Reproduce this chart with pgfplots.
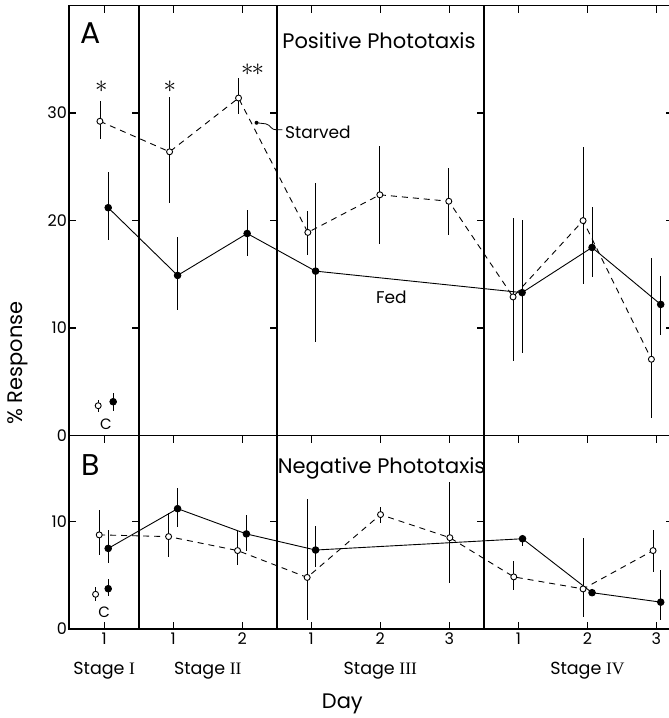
\documentclass[border=0pt]{standalone}
\usepackage{pgfplots}
\pgfplotsset{compat=1.18}
\usepackage{fontspec}
\setmainfont{Poppins}
\newfontfamily\rom{Liberation Serif}
\newcommand{\fs}[1]{\fontsize{#1}{#1}\selectfont}
\tikzset{septick/.style={line width=1.4pt}}
\begin{document}
\begin{tikzpicture}[x=1pt,y=1pt]
\useasboundingbox (0,0) rectangle (669,718);
\pgfplotsset{
  panel/.style={
    scale only axis, width=604pt, xmin=-0.51, xmax=8.24, ymin=0,
    xtick={0,...,8}, tick align=inside, major tick length=7pt,
    tick style={line width=1.4pt, black},
    axis line style={line width=1.6pt},
    ytick pos=both,
    /pgf/number format/assume math mode=true,
    yticklabel style={font=\fs{16}, inner sep=2pt},
    xticklabel style={font=\fs{16}},
    clip=false,
  },
  ebars/.style={error bars/y dir=both, error bars/y explicit, error bars/error mark=none,
    error bars/error bar style={line width=0.8pt, solid}},
  starved/.style={black, line width=0.9pt, dash pattern=on 6pt off 5pt,
    mark=*, mark size=3pt, mark options={solid, fill=white, line width=0.9pt}, ebars},
  fed/.style={black, line width=0.9pt, solid,
    mark=*, mark size=3.3pt, mark options={solid, fill=black}, ebars},
}
% ---------------- Panel A ----------------
\begin{axis}[panel, at={(69pt,282.4pt)}, anchor=south west, height=430pt,
  ymax=40, ytick={0,10,20,30}, xtick pos=right, xticklabels=\empty]
\addplot[starved] coordinates {
 (-0.062,29.24) += (0,1.91) -= (0,1.64)
 (0.947,26.4) += (0,5.1) -= (0,4.8)
 (1.946,31.4) += (0,1.9) -= (0,1.5)
 (2.950,18.9) += (0,1.95) -= (0,2.1)
 (3.993,22.4) += (0,4.5) -= (0,4.6)
 (4.992,21.8) += (0,3.1) -= (0,3.1)
 (5.923,12.9) += (0,7.3) -= (0,5.95)
 (6.937,20.0) += (0,6.8) -= (0,5.9)
 (7.927,7.1) += (0,9.4) -= (0,5.5)
};
\addplot[fed] coordinates {
 (0.058,21.2) += (0,3.3) -= (0,3.0)
 (1.063,14.9) += (0,3.6) -= (0,3.2)
 (2.071,18.8) += (0,2.2) -= (0,2.1)
 (3.062,15.3) += (0,8.2) -= (0,6.6)
 (6.054,13.3) += (0,6.8) -= (0,5.6)
 (7.067,17.5) += (0,3.8) -= (0,2.75)
 (8.062,12.2) += (0,2.6) -= (0,2.8)
};
\addplot[starved, only marks] coordinates {(-0.087,2.78) += (0,0.55) -= (0,0.55)};
\addplot[fed, only marks] coordinates {(0.130,3.15) += (0,0.8) -= (0,0.9)};
% separators
\draw[line width=1.6pt] (axis cs:0.5,0) -- (axis cs:0.5,40);
\draw[line width=1.6pt] (axis cs:2.5,0) -- (axis cs:2.5,40);
\draw[line width=1.6pt] (axis cs:5.5,0) -- (axis cs:5.5,40);
\draw[septick] (axis cs:0.5,10) -- (axis cs:0.40,10);
\draw[septick] (axis cs:0.5,20) -- (axis cs:0.40,20);
\draw[septick] (axis cs:0.5,30) -- (axis cs:0.40,30);
\draw[septick] (axis cs:2.5,10) -- (axis cs:2.40,10);
\draw[septick] (axis cs:2.5,20) -- (axis cs:2.40,20);
\draw[septick] (axis cs:2.5,30) -- (axis cs:2.40,30);
\draw[septick] (axis cs:5.5,10) -- (axis cs:5.40,10);
\draw[septick] (axis cs:5.5,20) -- (axis cs:5.40,20);
\draw[septick] (axis cs:5.5,30) -- (axis cs:5.40,30);
\node[font=\fs{30}] at (axis cs:-0.19,37.4) {A};
\node[font=\fs{21}] at (axis cs:3.98,36.7) {Positive Phototaxis};
\node[font=\fs{17}, anchor=west] at (axis cs:2.57,28.2) {Starved};
\node[font=\fs{17}] at (axis cs:4.16,12.9) {Fed};
\node[font=\fs{15}] at (axis cs:0.025,1.1) {C};
\draw[line width=0.8pt] (axis cs:2.207,29.1) -- (axis cs:2.34,29.0) .. controls (axis cs:2.42,28.9) and (axis cs:2.40,28.45) .. (axis cs:2.50,28.45) -- (axis cs:2.58,28.45);
\fill (axis cs:2.207,29.1) circle (2pt);
\node[font=\fs{28}] at (axis cs:-0.04,32.5) {$\ast$};
\node[font=\fs{28}] at (axis cs:0.95,32.5) {$\ast$};
\node[font=\fs{28}] at (axis cs:2.075,34.05) {$\ast$};
\node[font=\fs{28}] at (axis cs:2.225,34.05) {$\ast$};
\end{axis}
% ---------------- Panel B ----------------
\begin{axis}[panel, at={(69pt,89pt)}, anchor=south west, height=193.4pt,
  ymax=18, ytick={0,10}, xtick pos=both, xticklabel pos=left,
  xticklabels={1,1,2,1,2,3,1,2,3}]
\addplot[starved] coordinates {
 (-0.072,8.76) += (0,2.34) -= (0,1.86)
 (0.933,8.6) += (0,2.2) -= (0,1.9)
 (1.932,7.3) += (0,1.8) -= (0,1.3)
 (2.940,4.8) += (0,7.3) -= (0,3.95)
 (4.003,10.65) += (0,0.75) -= (0,0.8)
 (5.007,8.5) += (0,5.2) -= (0,4.2)
 (5.933,4.85) += (0,1.45) -= (0,1.25)
 (6.937,3.73) += (0,4.7) -= (0,2.6)
 (7.951,7.3) += (0,1.9) -= (0,2.0)
};
\addplot[fed] coordinates {
 (0.058,7.5) += (0,1.7) -= (0,1.4)
 (1.063,11.2) += (0,1.9) -= (0,1.7)
 (2.06,8.85) += (0,1.75) -= (0,1.55)
 (3.062,7.35) += (0,2.25) -= (0,1.55)
 (6.060,8.4) += (0,0.35) -= (0,0.7)
 (7.067,3.38) += (0,0) -= (0,0)
 (8.062,2.5) += (0,3.0) -= (0,1.7)
};
\addplot[starved, only marks] coordinates {(-0.125,3.23) += (0,0.72) -= (0,0.63)};
\addplot[fed, only marks] coordinates {(0.058,3.75) += (0,0.95) -= (0,0.65)};
\draw[line width=1.6pt] (axis cs:0.5,0) -- (axis cs:0.5,18);
\draw[line width=1.6pt] (axis cs:2.5,0) -- (axis cs:2.5,18);
\draw[line width=1.6pt] (axis cs:5.5,0) -- (axis cs:5.5,18);
\draw[septick] (axis cs:0.5,10) -- (axis cs:0.40,10);
\draw[septick] (axis cs:2.5,10) -- (axis cs:2.40,10);
\draw[septick] (axis cs:5.5,10) -- (axis cs:5.40,10);
\node[font=\fs{30}] at (axis cs:-0.2,15.3) {B};
\node[font=\fs{21}] at (axis cs:4.02,14.98) {Negative Phototaxis};
\node[font=\fs{15}] at (axis cs:0.0,1.6) {C};
\node[font=\fs{17.5}] at (axis cs:0,-3.85) {Stage {\rom I}};
\node[font=\fs{17.5}] at (axis cs:1.5,-3.85) {Stage {\rom II}};
\node[font=\fs{17.5}] at (axis cs:4,-3.85) {Stage {\rom III}};
\node[font=\fs{17.5}] at (axis cs:7,-3.85) {Stage {\rom IV}};
\node[font=\fs{21}] at (axis cs:3.45,-6.95) {Day};
\end{axis}
\node[font=\fs{21}, rotate=90] at (18,355) {\% Response};
\end{tikzpicture}
\end{document}
